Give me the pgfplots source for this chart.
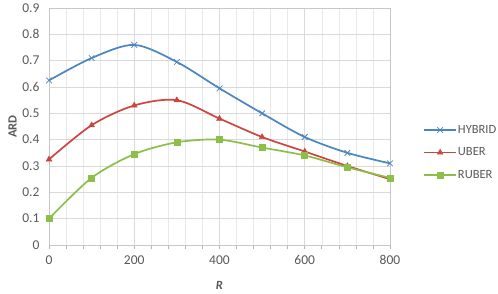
\documentclass[border=0pt]{standalone}
\usepackage{pgfplots}
\pgfplotsset{compat=1.18}
\usepackage{fontspec}
\setmainfont{Carlito}
\definecolor{cblue}{HTML}{4A86C0}
\definecolor{cred}{HTML}{CC4640}
\definecolor{cgreen}{HTML}{8CBF4A}
\definecolor{gridc}{HTML}{D9D9D9}
\definecolor{tickc}{HTML}{595959}
\begin{document}
\begin{tikzpicture}[x=1pt,y=1pt]
\path (-49,-48) rectangle (449,245);
\begin{axis}[
  at={(0,0)}, anchor=south west,
  scale only axis, width=341pt, height=237pt,
  xmin=0, xmax=800, ymin=0, ymax=0.9,
  xtick={0,200,...,800}, minor x tick num=4,
  ytick={0,0.1,...,0.9},
  yticklabel style={/pgf/number format/fixed,/pgf/number format/precision=1},
  /pgf/number format/assume math mode=true,
  grid=both,
  major grid style={gridc, line width=0.7pt},
  minor grid style={gridc!60, line width=0.5pt},
  axis line style={gridc!80!gray, line width=0.7pt},
  tick style={gridc!60!gray, line width=0.6pt},
  xtick pos=bottom, ytick pos=left,
  tick align=outside,
  major tick length=4pt, minor tick length=4pt,
  y tick style={draw=none},
  ticklabel style={font=\fontsize{13.5}{15}\selectfont, text=tickc},
  xticklabel style={yshift=-3pt},
  yticklabel style={xshift=-2pt},
  xlabel={\textbf{\textit{R}}},
  ylabel={\textbf{ARD}},
  label style={font=\fontsize{12.5}{14}\selectfont, text=tickc},
  xlabel style={yshift=-10pt},
  ylabel style={yshift=-1pt},
  legend style={at={(1.097,0.39)}, anchor=west, draw=none, fill=none,
    font=\fontsize{12.5}{14}\selectfont, text=tickc, row sep=9pt, inner xsep=0pt,
    nodes={inner xsep=1pt}},
  legend image code/.code={
    \draw[mark repeat=2,mark phase=2,#1] plot coordinates {(0pt,0pt) (16pt,0pt) (32pt,0pt)};},
  legend cell align=left,
  every axis plot/.append style={smooth, tension=0.5, line width=1.7pt},
]
\addplot[cblue, mark=x, mark size=4pt, mark options={line width=0.8pt}] coordinates {
(0,0.625) (100,0.71) (200,0.76) (300,0.695) (400,0.595) (500,0.50) (600,0.41) (700,0.35) (800,0.31)};
\addlegendentry{HYBRID}
\addplot[cred, mark=triangle*, mark size=3.3pt, mark options={line width=0.5pt}] coordinates {
(0,0.325) (100,0.455) (200,0.53) (300,0.55) (400,0.48) (500,0.41) (600,0.355) (700,0.30) (800,0.25)};
\addlegendentry{UBER}
\addplot[cgreen, mark=square*, mark size=3pt, mark options={line width=0.5pt}] coordinates {
(0,0.10) (100,0.255) (200,0.345) (300,0.39) (400,0.40) (500,0.37) (600,0.34) (700,0.295) (800,0.255)};
\addlegendentry{RUBER}
\end{axis}
\end{tikzpicture}
\end{document}
